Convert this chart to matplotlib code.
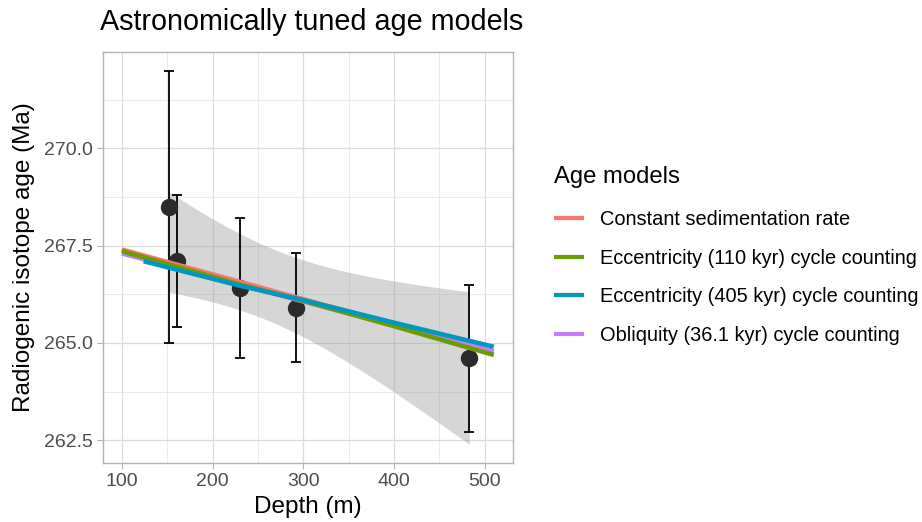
import numpy as np
import matplotlib
matplotlib.use("Agg")
import matplotlib.pyplot as plt
from matplotlib.ticker import MultipleLocator, FormatStrFormatter

plt.rcParams['font.family'] = ['Liberation Sans', 'DejaVu Sans']

# ---- data ----
depth = [151.5, 160.8, 230.0, 292.3, 483.1]
age = [268.5, 267.1, 266.4, 265.9, 264.6]
age_low = [265.0, 265.4, 264.6, 264.5, 262.7]
age_high = [272.0, 268.8, 268.2, 267.3, 266.5]

model_names = ["Constant sedimentation rate",
               "Eccentricity (110 kyr) cycle counting",
               "Eccentricity (405 kyr) cycle counting",
               "Obliquity (36.1 kyr) cycle counting"]
model_colors = ["#F8766D", "#6E9C00", "#0098BE", "#C77CFF"]

const_depth = [100, 510]
const_age = [267.40, 264.78]
ecc110_depth = [100, 230, 300, 400, 510]
ecc110_age = [267.36, 266.50, 266.08, 265.43, 264.69]
ecc405_depth = [124, 230, 300, 400, 510]
ecc405_age = [267.10, 266.47, 266.10, 265.52, 264.90]
obl_depth = [100, 510]
obl_age = [267.30, 264.77]

t_crit = 3.182  # 95% t quantile, df = 3

# ---- figure ----
fig = plt.figure(figsize=(9.22, 5.22), dpi=100)
ax = fig.add_axes([0.1120, 0.1136, 0.4447, 0.7862])

# linear-model confidence ribbon (like geom_smooth(method="lm"))
x = np.asarray(depth)
y = np.asarray(age)
coef = np.polyfit(x, y, 1)
resid = y - np.polyval(coef, x)
s = np.sqrt(np.sum(resid ** 2) / (len(x) - 2))
xs = np.linspace(x.min(), x.max(), 100)
se = s * np.sqrt(1 / len(x) + (xs - x.mean()) ** 2 / np.sum((x - x.mean()) ** 2))
fit = np.polyval(coef, xs)
ax.fill_between(xs, fit - t_crit * se, fit + t_crit * se, color="#999999", alpha=0.4,
                linewidth=0, zorder=2)

# error bars and points
yerr = [np.asarray(age) - np.asarray(age_low), np.asarray(age_high) - np.asarray(age)]
ax.errorbar(depth, age, yerr=yerr, fmt="none", ecolor="black", elinewidth=1.3,
            capsize=3.5, capthick=1.3, zorder=3)
ax.plot(depth, age, "o", color="#2b2b2b", markersize=11.5, zorder=4, linestyle="none")

# age model lines
lw = 3.3
l_const, = ax.plot(const_depth, const_age, color=model_colors[0], lw=lw, zorder=5,
                   solid_capstyle="butt")
l_obl, = ax.plot(obl_depth, obl_age, color=model_colors[3], lw=lw, zorder=5,
                 solid_capstyle="butt")
l_110, = ax.plot(ecc110_depth, ecc110_age, color=model_colors[1], lw=lw, zorder=6,
                 solid_capstyle="butt")
l_405, = ax.plot(ecc405_depth, ecc405_age, color=model_colors[2], lw=lw, zorder=7,
                 solid_capstyle="butt")

# axes styling (theme_light-like)
ax.set_xlim(79.5, 531.5)
ax.set_ylim(261.92, 272.47)
ax.xaxis.set_major_locator(MultipleLocator(100))
ax.xaxis.set_minor_locator(MultipleLocator(50))
ax.yaxis.set_major_locator(MultipleLocator(2.5))
ax.yaxis.set_minor_locator(MultipleLocator(1.25))
ax.yaxis.set_major_formatter(FormatStrFormatter("%.1f"))
ax.grid(which="major", color="#dcdcdc", lw=0.9, zorder=0)
ax.grid(which="minor", color="#e8e8e8", lw=0.6, zorder=0)
ax.set_axisbelow(True)
for sp in ax.spines.values():
    sp.set_color("#b3b3b3")
    sp.set_linewidth(1.0)
ax.tick_params(which="major", direction="out", length=4, width=0.8, color="#b3b3b3",
               labelcolor="#4d4d4d", labelsize=14, pad=3.5)
ax.tick_params(which="minor", length=0)

ax.set_xlabel("Depth (m)", fontsize=17.5, color="black")
ax.set_ylabel("Radiogenic isotope age (Ma)", fontsize=17.5, color="black")
ax.xaxis.set_label_coords(0.5, -0.08)
ax.yaxis.set_label_coords(-0.166, 0.5)
fig.text(0.1085, 0.958, "Astronomically tuned age models", fontsize=20.7, ha="left",
         va="center", color="black")

leg = ax.legend([l_const, l_110, l_405, l_obl], model_names, title="Age models",
                loc="upper left", bbox_to_anchor=(0.6005, 0.682),
                bbox_transform=fig.transFigure, frameon=False, fontsize=14.4,
                title_fontsize=17.2, handlelength=1.5, handletextpad=0.8,
                labelspacing=0.98, borderaxespad=0, borderpad=0)
leg._legend_box.align = "left"
leg._legend_box.sep = 16.0
for h in leg.legend_handles:
    h.set_linewidth(3.0)

fig.savefig("out.png", dpi=100)
